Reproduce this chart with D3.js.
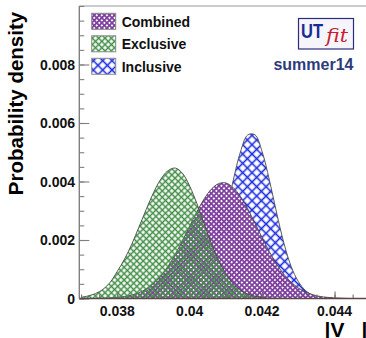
<!DOCTYPE html>
<html>
<head>
<meta charset="utf-8">
<script src="https://cdn.jsdelivr.net/npm/d3@7"></script>
<style>
    html, body { margin: 0; padding: 0; background: #fff; overflow: hidden; }
    svg { display: block; font-family: "Liberation Sans", Arial, Helvetica, sans-serif; font-weight: bold; }
</style>
</head>
<body>
<script>
// |Vcb| grid and the three probability density curves
const vcbGrid = [
    0.0370, 0.0372, 0.0374, 0.0376, 0.0378, 0.0380, 0.0382, 0.0384, 0.0386, 0.0388,
    0.0390, 0.0392, 0.0394, 0.0396, 0.0398, 0.0400, 0.0402, 0.0404, 0.0406, 0.0408,
    0.0410, 0.0412, 0.0414, 0.0416, 0.0418, 0.0420, 0.0422, 0.0424, 0.0426, 0.0428,
    0.0430, 0.0432, 0.0434, 0.0436, 0.0438, 0.0440, 0.0442, 0.0444, 0.0446, 0.0448,
    0.0450
];
const combined = [
    0, 0, 0, 0.00001, 0.00002, 0.00004, 0.00007, 0.00012, 0.00020, 0.00033,
    0.00051, 0.00077, 0.00110, 0.00151, 0.00198, 0.00248, 0.00297, 0.00341, 0.00374, 0.00393,
    0.00395, 0.00379, 0.00349, 0.00307, 0.00258, 0.00208, 0.00160, 0.00118, 0.00083, 0.00056,
    0.00036, 0.00022, 0.00013, 0.00007, 0.00004, 0.00002, 0.00001, 0, 0, 0,
    0
];
const exclusive = [
    0.00004, 0.00009, 0.00017, 0.00031, 0.00055, 0.00093, 0.00135, 0.00186, 0.00245, 0.00305,
    0.00362, 0.00408, 0.00437, 0.00446, 0.00428, 0.00384, 0.00324, 0.00255, 0.00188, 0.00130,
    0.00084, 0.00051, 0.00029, 0.00015, 0.00008, 0.00003, 0.00001, 0, 0, 0,
    0, 0, 0, 0, 0, 0, 0, 0, 0, 0,
    0
];
const inclusive = [
    0, 0, 0, 0, 0, 0, 0, 0, 0, 0,
    0, 0, 0, 0.00001, 0.00004, 0.00011, 0.00027, 0.00057, 0.00109, 0.00188,
    0.00290, 0.00403, 0.00501, 0.00559, 0.00560, 0.00502, 0.00405, 0.00293, 0.00190, 0.00110,
    0.00058, 0.00027, 0.00011, 0.00004, 0.00001, 0, 0, 0, 0, 0,
    0
];

const seriesNames = ['Combined', 'Exclusive', 'Inclusive'];
const drawOrder = ['Inclusive', 'Combined', 'Exclusive'];
const xTicks = [0.038, 0.040, 0.042, 0.044];
const xTickLabels = ['0.038', '0.04', '0.042', '0.044'];
const yTicks = [0, 0.002, 0.004, 0.006, 0.008];
const yTickLabels = ['0', '0.002', '0.004', '0.006', '0.008'];

const width = 366;
const height = 338;
const plotLeft = 79.3;
const plotTop = 6;
const plotBottom = 298.5;
const plotRight = 378;

const svg = d3.select('body').append('svg')
    .attr('width', width)
    .attr('height', height);
const defs = svg.append('defs');

const x = d3.scaleLinear().domain([0.03695, 0.0452]).range([plotLeft, plotRight]);
const y = d3.scaleLinear().domain([0, 0.01]).range([plotBottom, plotTop]);

// hatch patterns, ROOT style cross hatching
function addHatch(id, color, step, lineWidth, background) {
    const p = defs.append('pattern')
        .attr('id', id)
        .attr('patternUnits', 'userSpaceOnUse')
        .attr('width', step)
        .attr('height', step)
        .attr('patternTransform', 'rotate(45)');
    if (background) {
        p.append('rect').attr('width', step).attr('height', step).attr('fill', background);
    }
    p.append('line')
        .attr('x1', 0).attr('y1', step / 2).attr('x2', step).attr('y2', step / 2)
        .attr('stroke', color).attr('stroke-width', lineWidth);
    p.append('line')
        .attr('x1', step / 2).attr('y1', 0).attr('x2', step / 2).attr('y2', step)
        .attr('stroke', color).attr('stroke-width', lineWidth);
}
addHatch('hatch-combined', '#7e3f9e', 3.6, 1.75, '#fff');
addHatch('hatch-exclusive', '#438f47', 4.5, 1.5, null);
addHatch('hatch-inclusive', '#1f2fe0', 6.6, 1.6, null);

const styles = {
    Combined: 'url(#hatch-combined)',
    Exclusive: 'url(#hatch-exclusive)',
    Inclusive: 'url(#hatch-inclusive)'
};
const seriesValues = { Combined: combined, Exclusive: exclusive, Inclusive: inclusive };

defs.append('clipPath').attr('id', 'plot-clip')
    .append('rect')
    .attr('x', plotLeft).attr('y', plotTop)
    .attr('width', plotRight - plotLeft).attr('height', plotBottom - plotTop);

const plot = svg.append('g').attr('clip-path', 'url(#plot-clip)');

const area = d3.area()
    .x((d, i) => x(vcbGrid[i]))
    .y0(y(0))
    .y1(d => y(d))
    .curve(d3.curveCatmullRom);
const line = d3.line()
    .x((d, i) => x(vcbGrid[i]))
    .y(d => y(d))
    .curve(d3.curveCatmullRom);

// each histogram: fill then outline, in drawing order
drawOrder.forEach(name => {
    plot.append('path')
        .attr('d', area(seriesValues[name]))
        .attr('fill', styles[name]);
    plot.append('path')
        .attr('d', line(seriesValues[name]))
        .attr('fill', 'none')
        .attr('stroke', '#4a4a4a')
        .attr('stroke-width', 0.9);
});

// frame
svg.append('line')
    .attr('x1', plotLeft).attr('x2', width).attr('y1', plotTop).attr('y2', plotTop)
    .attr('stroke', '#999').attr('stroke-width', 1.2);

// y axis
const yMinor = d3.range(0, 0.01 + 1e-9, 0.0005);
const yAxisG = svg.append('g').attr('transform', `translate(${plotLeft},0)`);
yAxisG.append('g').call(d3.axisLeft(y).tickValues(yMinor).tickSize(-5).tickFormat(''));
yAxisG.append('g').call(d3.axisLeft(y).tickValues(yTicks).tickSize(-10).tickFormat(''));
yAxisG.selectAll('.domain').remove();
yAxisG.selectAll('line').attr('stroke', '#808080').attr('stroke-width', 1.1);
yAxisG.append('line')
    .attr('x1', 0).attr('x2', 0).attr('y1', plotTop).attr('y2', plotBottom)
    .attr('stroke', '#808080').attr('stroke-width', 1.4);
svg.append('g').selectAll('text')
    .data(yTicks)
    .join('text')
    .attr('x', 75)
    .attr('y', d => y(d))
    .attr('dy', '0.36em')
    .attr('text-anchor', 'end')
    .attr('font-size', 14)
    .attr('fill', '#111')
    .text((d, i) => yTickLabels[i]);

// x axis
const xMinor = d3.range(0.037, 0.0452, 0.0005);
const xAxisG = svg.append('g').attr('transform', `translate(0,${plotBottom})`);
xAxisG.append('g').call(d3.axisBottom(x).tickValues(xMinor).tickSize(-4).tickFormat(''));
xAxisG.append('g').call(d3.axisBottom(x).tickValues(xTicks).tickSize(-7).tickFormat(''));
xAxisG.selectAll('.domain').remove();
xAxisG.selectAll('line').attr('stroke', '#707070').attr('stroke-width', 1.1);
xAxisG.append('line')
    .attr('x1', plotLeft).attr('x2', width).attr('y1', 0).attr('y2', 0)
    .attr('stroke', '#5a4848').attr('stroke-width', 1.4);
svg.append('g').selectAll('text')
    .data(xTicks)
    .join('text')
    .attr('x', d => x(d))
    .attr('y', 315.5)
    .attr('text-anchor', 'middle')
    .attr('font-size', 14)
    .attr('fill', '#111')
    .text((d, i) => xTickLabels[i]);

// axis titles
svg.append('text')
    .attr('transform', 'translate(22.5,103.5) rotate(-90)')
    .attr('text-anchor', 'middle')
    .attr('font-size', 20.5)
    .attr('fill', '#000')
    .text('Probability density');

const xTitle = svg.append('text')
    .attr('x', 324.5)
    .attr('y', 337)
    .attr('font-size', 21)
    .attr('fill', '#000');
xTitle.append('tspan').text('|V');
xTitle.append('tspan').attr('font-size', 14.7).attr('dy', 13).text('cb');
xTitle.append('tspan').attr('dy', -13).text('|');

// legend
const legend = svg.append('g');
seriesNames.forEach((name, i) => {
    const top = 13.3 + i * 22.5;
    legend.append('rect')
        .attr('x', 91.7).attr('y', top)
        .attr('width', 24).attr('height', 16)
        .attr('fill', styles[name])
        .attr('stroke', '#8a8a8a')
        .attr('stroke-width', 1);
    legend.append('text')
        .attr('x', 121.7)
        .attr('y', top + 13.5)
        .attr('font-size', 14)
        .attr('fill', '#111')
        .text(name);
});

// UTfit logo
const logo = svg.append('g');
logo.append('rect')
    .attr('x', 298.5).attr('y', 18.5)
    .attr('width', 55).attr('height', 30.5)
    .attr('fill', '#f5f5fb')
    .attr('stroke', '#2c2c7c')
    .attr('stroke-width', 1.2);
logo.append('text')
    .attr('x', 301).attr('y', 37.5)
    .attr('font-size', 21)
    .attr('textLength', 22)
    .attr('lengthAdjust', 'spacingAndGlyphs')
    .attr('fill', '#1b2b8f')
    .text('UT');
logo.append('text')
    .attr('x', 326).attr('y', 42)
    .attr('font-family', '"DejaVu Serif", "Liberation Serif", serif')
    .attr('font-style', 'italic')
    .attr('font-weight', 'normal')
    .attr('font-size', 19)
    .attr('textLength', 22)
    .attr('lengthAdjust', 'spacingAndGlyphs')
    .attr('fill', '#c8202a')
    .text('fit');
logo.append('text')
    .attr('x', 313.4).attr('y', 70)
    .attr('text-anchor', 'middle')
    .attr('font-size', 16)
    .attr('fill', '#2d3b7d')
    .text('summer14');
</script>
</body>
</html>
